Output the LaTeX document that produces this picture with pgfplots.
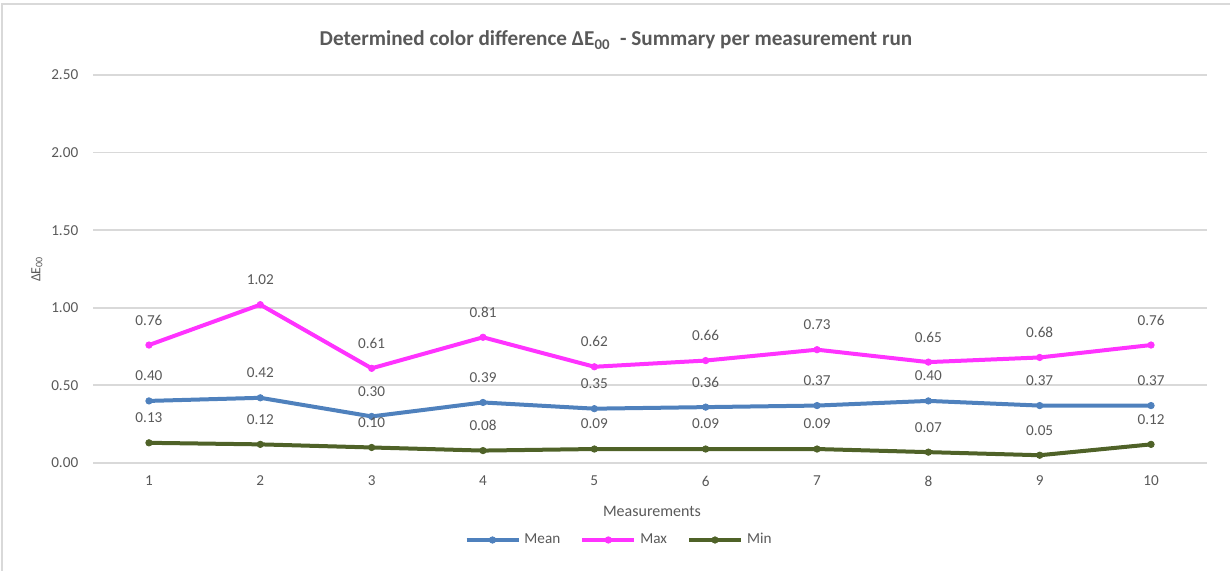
\documentclass[border=0pt]{standalone}
\usepackage{pgfplots}
\pgfplotsset{compat=1.18}
\usepackage{fontspec}
\setmainfont{Carlito}

\definecolor{txt}{HTML}{595959}
\definecolor{gridc}{HTML}{D9D9D9}
\definecolor{meanc}{HTML}{4F81BD}
\definecolor{maxc}{HTML}{FF33FF}
\definecolor{minc}{HTML}{4F6228}

\begin{document}
\begin{tikzpicture}
  \useasboundingbox (0,0) rectangle (615pt,285.5pt);
  \draw[gridc, line width=1pt] (1pt,0) -- (1pt,283.5pt) -- (615pt,283.5pt);

  \node[txt, font=\bfseries\fontsize{10.6}{12}\selectfont] at (308pt,265.5pt)
    {Determined color difference ΔE\textsubscript{00}\ \ - Summary per measurement run};
  \node[txt, font=\fontsize{7}{8}\selectfont, rotate=90] at (18.5pt,151pt) {ΔE\textsubscript{00}};
  \node[txt, font=\fontsize{8}{9}\selectfont] at (326pt,30pt) {Measurements};

  \begin{axis}[
    at={(46.65pt,54pt)}, anchor=south west,
    scale only axis, width=556.7pt, height=194pt,
    xmin=0.5, xmax=10.5, ymin=0, ymax=2.5,
    xtick={1,...,10}, ytick={0,0.5,...,2.5},
    axis line style={draw=none}, tick style={draw=none},
    ymajorgrids, grid style={gridc, line width=0.9pt},
    /pgf/number format/assume math mode=true,
    tick label style={txt, font=\fontsize{7.6}{9}\selectfont},
    yticklabel style={xshift=-4pt, /pgf/number format/.cd, fixed, zerofill, precision=2},
    xticklabel style={yshift=-3pt},
    every axis plot/.append style={line width=2pt, mark=*, mark size=1.6pt},
    nodes near coords,
    every node near coord/.append style={txt, font=\fontsize{7.6}{9}\selectfont, anchor=center, yshift=12.5pt,
      /pgf/number format/.cd, fixed, zerofill, precision=2},
    legend columns=3,
    legend style={at={(0.5,0)}, anchor=center, xshift=-15pt, yshift=-38.5pt, draw=none,
      font=\fontsize{7.6}{9}\selectfont, text=txt,
      /tikz/every even column/.append style={column sep=8pt}},
    legend image code/.code={
      \draw[#1, mark=none] (0pt,0pt) -- (26pt,0pt);
      \draw[#1, line width=0pt] plot coordinates {(13pt,0pt)};
    },
  ]
  \addplot[meanc, mark options={fill=meanc, line width=0.4pt}] coordinates {
    (1,0.40) (2,0.42) (3,0.30) (4,0.39) (5,0.35) (6,0.36) (7,0.37) (8,0.40) (9,0.37) (10,0.37)};
  \addlegendentry{Mean}
  \addplot[maxc, mark options={fill=maxc, line width=0.4pt}] coordinates {
    (1,0.76) (2,1.02) (3,0.61) (4,0.81) (5,0.62) (6,0.66) (7,0.73) (8,0.65) (9,0.68) (10,0.76)};
  \addlegendentry{Max}
  \addplot[minc, mark options={fill=minc, line width=0.4pt}] coordinates {
    (1,0.13) (2,0.12) (3,0.10) (4,0.08) (5,0.09) (6,0.09) (7,0.09) (8,0.07) (9,0.05) (10,0.12)};
  \addlegendentry{Min}
  \end{axis}
\end{tikzpicture}
\end{document}
